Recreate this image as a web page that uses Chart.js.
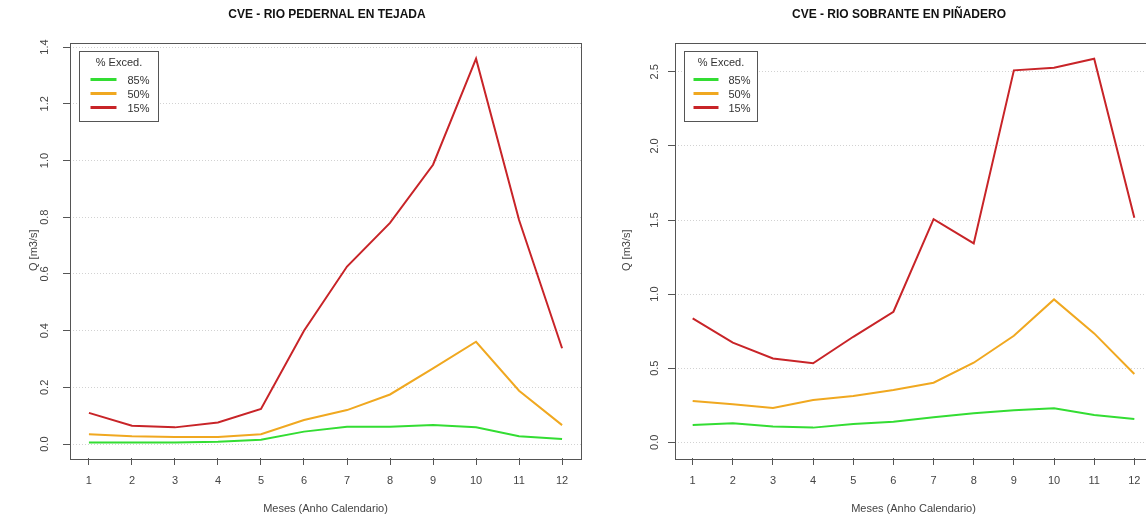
<!DOCTYPE html>
<html>
<head>
<meta charset="utf-8">
<script src="https://cdn.jsdelivr.net/npm/chart.js@4"></script>
<style>
  html, body { margin: 0; padding: 0; background: #fff; overflow: hidden; }
  body { width: 1146px; height: 518px; position: relative; }
  .panel { position: absolute; top: 0; height: 518px; }
  #left { left: 0; width: 654px; }
  #right { left: 600px; width: 598px; }
</style>
</head>
<body>
<div class="panel" id="left"><canvas id="chartLeft"></canvas></div>
<div class="panel" id="right"><canvas id="chartRight"></canvas></div>
<script>
// Data
const months = [1, 2, 3, 4, 5, 6, 7, 8, 9, 10, 11, 12];
const seriesLabels = ["85%", "50%", "15%"];
const seriesColors = ["#33dd33", "#f0a820", "#c82428"];

const pedernal85 = [0.006, 0.006, 0.006, 0.008, 0.015, 0.044, 0.061, 0.061, 0.067, 0.059, 0.028, 0.018];
const pedernal50 = [0.035, 0.028, 0.025, 0.025, 0.035, 0.085, 0.12, 0.175, 0.267, 0.361, 0.188, 0.067];
const pedernal15 = [0.11, 0.065, 0.059, 0.076, 0.124, 0.40, 0.626, 0.78, 0.985, 1.359, 0.79, 0.338];

const sobrante85 = [0.117, 0.128, 0.106, 0.099, 0.124, 0.139, 0.169, 0.196, 0.216, 0.229, 0.184, 0.157];
const sobrante50 = [0.279, 0.256, 0.231, 0.285, 0.312, 0.353, 0.402, 0.537, 0.719, 0.964, 0.735, 0.461];
const sobrante15 = [0.836, 0.672, 0.566, 0.533, 0.712, 0.881, 1.506, 1.342, 2.51, 2.528, 2.589, 1.515];

const pedernalTicks = [0, 0.2, 0.4, 0.6, 0.8, 1.0, 1.2, 1.4];
const sobranteTicks = [0, 0.5, 1.0, 1.5, 2.0, 2.5];

const FONT = "'Liberation Sans', Arial, sans-serif";

// Box around the plot area (R style)
const boxPlugin = {
    id: "box",
    afterDatasetsDraw(chart) {
        const { ctx, chartArea: a } = chart;
        ctx.save();
        ctx.setLineDash([]);
        ctx.strokeStyle = "#555";
        ctx.lineWidth = 1;
        ctx.strokeRect(Math.round(a.left) + 0.5, Math.round(a.top) + 0.5,
            Math.round(a.right - a.left), Math.round(a.bottom - a.top));
        ctx.restore();
    },
};

// Main title, centred where R put it (relative to the plot box)
const plotTitle = {
    id: "plotTitle",
    afterDraw(chart, args, opts) {
        const { ctx, chartArea: a } = chart;
        ctx.save();
        ctx.font = "bold 12px " + FONT;
        ctx.fillStyle = "#111";
        ctx.textAlign = "center";
        ctx.textBaseline = "middle";
        ctx.fillText(opts.text, a.left + opts.offsetX, 15);
        ctx.restore();
    },
};

// Legend drawn as a framed box in the top-left of the plot
const boxLegend = {
    id: "boxLegend",
    afterDatasetsDraw(chart, args, opts) {
        const { ctx, chartArea: a } = chart;
        const x = Math.round(a.left + 9) + 0.5;
        const y = Math.round(a.top + 8) + 0.5;
        const w = opts.width, h = 70;
        ctx.save();
        ctx.setLineDash([]);
        ctx.fillStyle = "#fff";
        ctx.fillRect(x, y, w, h);
        ctx.strokeStyle = "#555";
        ctx.lineWidth = 1;
        ctx.strokeRect(x, y, w, h);
        ctx.font = "11px " + FONT;
        ctx.fillStyle = "#333";
        ctx.textAlign = "center";
        ctx.textBaseline = "middle";
        ctx.fillText("% Exced.", x + w / 2, y + 11);
        ctx.textAlign = "left";
        chart.data.datasets.forEach((ds, i) => {
            const ly = y + 28 + i * 14;
            ctx.strokeStyle = ds.borderColor;
            ctx.lineWidth = 3;
            ctx.beginPath();
            ctx.moveTo(x + opts.lineStart, ly);
            ctx.lineTo(x + opts.lineEnd, ly);
            ctx.stroke();
            ctx.fillText(ds.label, x + opts.textX, ly + 1);
        });
        ctx.restore();
    },
};

const makeChart = function (id, cfg) {
    const datasets = cfg.series.map((values, i) => ({
        label: seriesLabels[i],
        data: months.map((m, j) => ({ x: m, y: values[j] })),
        borderColor: seriesColors[i],
        borderWidth: 2,
        pointRadius: 0,
        tension: 0,
        fill: false,
    }));
    return new Chart(document.getElementById(id), {
        type: "line",
        data: { datasets },
        plugins: [boxPlugin, boxLegend, plotTitle],
        options: {
            animation: false,
            responsive: true,
            maintainAspectRatio: false,
            layout: { padding: { left: 0, right: cfg.padRight, top: 42.5, bottom: 0 } },
            plugins: {
                legend: { display: false },
                tooltip: { enabled: false },
                title: { display: false },
                plotTitle: { text: cfg.title, offsetX: cfg.titleOffset },
                boxLegend: cfg.legend,
            },
            scales: {
                x: {
                    type: "linear",
                    min: 0.56,
                    max: 12.44,
                    afterBuildTicks: (scale) => {
                        scale.ticks = months.map((v) => ({ value: v }));
                    },
                    afterFit: (scale) => { scale.height = 60; },
                    grid: {
                        drawOnChartArea: false,
                        drawTicks: true,
                        tickLength: 7,
                        tickColor: "#555",
                        color: "#555",
                    },
                    border: { display: false },
                    ticks: {
                        color: "#444",
                        font: { family: FONT, size: 11 },
                        padding: 9,
                        maxRotation: 0,
                        callback: (v) => String(v),
                    },
                    title: {
                        display: true,
                        text: "Meses (Anho Calendario)",
                        color: "#444",
                        font: { family: FONT, size: 11 },
                        padding: { top: 0, bottom: 2 },
                    },
                },
                y: {
                    type: "linear",
                    min: cfg.yMin,
                    max: cfg.yMax,
                    afterBuildTicks: (scale) => {
                        scale.ticks = cfg.yTicks.map((v) => ({ value: v }));
                    },
                    afterFit: (scale) => { scale.width = cfg.yWidth; },
                    grid: {
                        color: "#d2d2d2",
                        lineWidth: 1,
                        drawTicks: true,
                        tickLength: 7,
                        tickColor: "#555",
                        tickBorderDash: [],
                        borderDash: [1, 2],
                    },
                    border: { display: false, dash: [1, 2] },
                    ticks: {
                        color: "#444",
                        font: { family: FONT, size: 11 },
                        minRotation: 90,
                        maxRotation: 90,
                        crossAlign: "center",
                        padding: cfg.yTickPad,
                        callback: (v) => Number(v).toFixed(1),
                    },
                    title: {
                        display: true,
                        text: "Q [m3/s]",
                        color: "#444",
                        font: { family: FONT, size: 11 },
                        padding: { top: cfg.yTitlePad, bottom: 0 },
                    },
                },
            },
        },
    });
};

makeChart("chartLeft", {
    title: "CVE - RIO PEDERNAL EN TEJADA",
    titleOffset: 257,
    series: [pedernal85, pedernal50, pedernal15],
    yMin: -0.049,
    yMax: 1.416,
    yTicks: pedernalTicks,
    yWidth: 70,
    padRight: 73,
    yTickPad: 10,
    yTitlePad: 27,
    legend: { width: 79, lineStart: 11, lineEnd: 37, textX: 48 },
});

makeChart("chartRight", {
    title: "CVE - RIO SOBRANTE EN PIÑADERO",
    titleOffset: 224,
    series: [sobrante85, sobrante50, sobrante15],
    yMin: -0.106,
    yMax: 2.698,
    yTicks: sobranteTicks,
    yWidth: 75,
    padRight: 46,
    yTickPad: 5,
    yTitlePad: 20,
    legend: { width: 73, lineStart: 9, lineEnd: 34, textX: 44 },
});
</script>
</body>
</html>
